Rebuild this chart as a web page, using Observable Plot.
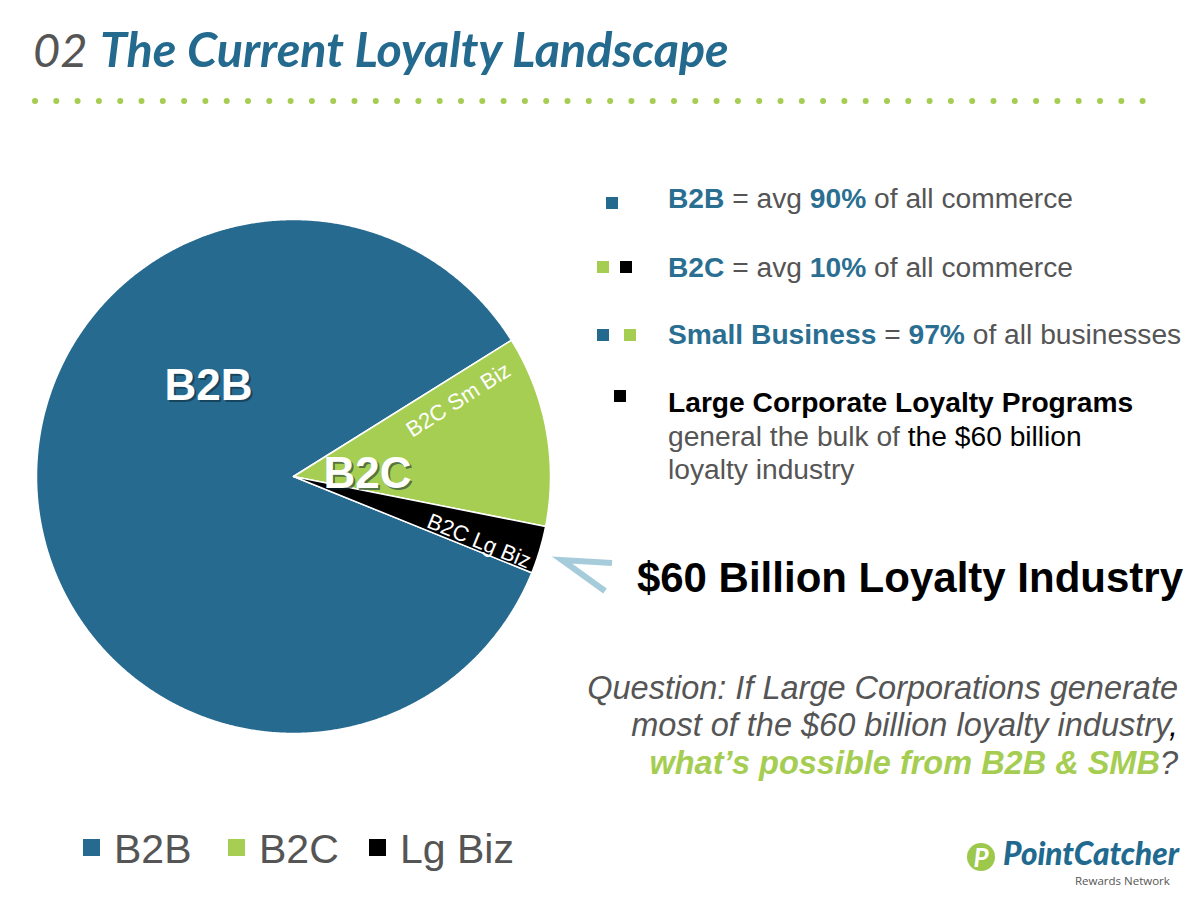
<!DOCTYPE html>
<html><head><meta charset="utf-8">
<script src="https://cdn.jsdelivr.net/npm/d3@7"></script>
<script src="https://cdn.jsdelivr.net/npm/@observablehq/plot@0.6"></script>
<style>
html,body{margin:0;padding:0;background:#fff;}
#page{position:relative;width:1200px;height:900px;overflow:hidden;background:#fff;}
#pie{position:absolute;left:13px;top:196px;}
#pie svg{background:transparent;}
#overlay{position:absolute;left:0;top:0;}
</style></head>
<body>
<div id="page">
<div id="pie"></div>
<svg id="overlay" width="1200" height="900" font-family="Liberation Sans, Arial, sans-serif">
  <!-- title -->
  <text x="33" y="67" font-family="Lato" font-style="italic" font-size="47" fill="#555">02</text>
  <text x="100" y="67" font-family="Lato" font-style="italic" font-weight="700" font-size="48.5" fill="#236a8e">The Current Loyalty Landscape</text>
  <line x1="35" y1="101" x2="1146" y2="101" stroke="#a5cd52" stroke-width="6" stroke-linecap="round" stroke-dasharray="0 21.3"/>
  <!-- bullets -->
  <g font-size="28.2" fill="#555">
    <rect x="606" y="197" width="12" height="12" fill="#236a8e"/>
    <text x="668" y="208"><tspan font-weight="bold" fill="#2a6f91">B2B</tspan> = avg <tspan font-weight="bold" fill="#2a6f91">90%</tspan> of all commerce</text>
    <rect x="597" y="261" width="12" height="12" fill="#a5cd52"/>
    <rect x="620" y="261" width="12" height="12" fill="#000"/>
    <text x="668" y="277"><tspan font-weight="bold" fill="#2a6f91">B2C</tspan> = avg <tspan font-weight="bold" fill="#2a6f91">10%</tspan> of all commerce</text>
    <rect x="597" y="329" width="12" height="12" fill="#236a8e"/>
    <rect x="624" y="329" width="12" height="12" fill="#a5cd52"/>
    <text x="668" y="344"><tspan font-weight="bold" fill="#2a6f91">Small Business</tspan> = <tspan font-weight="bold" fill="#2a6f91">97%</tspan> of all businesses</text>
    <rect x="614" y="390" width="12" height="12" fill="#000"/>
    <text x="668" y="412" font-weight="bold" fill="#000">Large Corporate Loyalty Programs</text>
    <text x="668" y="446">general the bulk of <tspan fill="#000">the $60 billion</tspan></text>
    <text x="668" y="479">loyalty industry</text>
  </g>
  <polyline points="612,563 562,560 605,591" fill="none" stroke="#9cc6d8" stroke-width="6" opacity="0.9"/>
  <text x="1183" y="592" text-anchor="end" font-size="42" font-weight="bold" fill="#000">$60 Billion Loyalty Industry</text>
  <g font-size="32.5" font-style="italic" fill="#555" text-anchor="end">
    <text x="1178" y="699">Question: If Large Corporations generate</text>
    <text x="1178" y="736">most of the $60 billion loyalty industry<tspan fill="#000">,</tspan></text>
    <text x="1178" y="774"><tspan font-weight="bold" fill="#a5cd52">what’s possible from B2B &amp; SMB</tspan>?</text>
  </g>
  <g id="legend" font-size="41" fill="#555"></g>
  <!-- logo -->
  <circle cx="981" cy="857" r="14" fill="#9cc84b"/>
  <text x="981" y="867" text-anchor="middle" font-family="Lato" font-style="italic" font-weight="700" font-size="26" fill="#fff">P</text>
  <text x="1003" y="865" font-family="Lato" font-style="italic" font-weight="900" font-size="31.5" fill="#1f6a8e">PointCatcher</text>
  <text x="1075" y="885" font-family="Open Sans" font-size="11.5" fill="#555">Rewards Network</text>
</svg>
</div>
<script>
// ---- data ----
const slices = ["B2B", "B2C Sm Biz", "B2C Lg Biz"];
const shares = [85, 12, 3];
const legendLabels = ["B2B", "B2C", "Lg Biz"];
const bigLabels = ["B2B", "B2C"];
const sliceLabels = ["B2C Sm Biz", "B2C Lg Biz"];

// ---- style / layout ----
const colors = ["#266a90", "#a6ce53", "#000000"];
const startDeg = 112;
const R = 257;            // pie radius in px
const size = 560;
const half = (size / 2) / R;
const bigLayout = {"B2B": [-0.331, 0.352], "B2C": [0.288, 0.012]};
const smallLayout = {"B2C Sm Biz": [0.642, 0.297, -32.5], "B2C Lg Biz": [0.722, -0.252, 22.5]};

const arcs = d3.pie().sort(null).value((d, i) => shares[i])
  .startAngle(startDeg * Math.PI / 180)
  .endAngle(startDeg * Math.PI / 180 + 2 * Math.PI)(slices);

const pts = [];
for (const a of arcs) {
  pts.push({key: a.data, x: 0, y: 0});
  const n = Math.max(4, Math.ceil((a.endAngle - a.startAngle) / 0.005));
  for (let i = 0; i <= n; i++) {
    const t = a.startAngle + (a.endAngle - a.startAngle) * i / n;
    pts.push({key: a.data, x: Math.sin(t), y: Math.cos(t)});
  }
}
const big = bigLabels.map(l => ({label: l, x: bigLayout[l][0], y: bigLayout[l][1]}));
const small = sliceLabels.map(l => ({label: l, x: smallLayout[l][0], y: smallLayout[l][1], r: smallLayout[l][2]}));

const chart = Plot.plot({
  width: size, height: size, margin: 0,
  x: {domain: [-half, half], axis: null},
  y: {domain: [-half, half], axis: null},
  color: {domain: slices, range: colors},
  style: {background: "transparent", fontFamily: "Liberation Sans, Arial, sans-serif"},
  marks: [
    Plot.line(pts, {x: "x", y: "y", z: "key", fill: "key", stroke: "white", strokeWidth: 1.5, curve: "linear-closed"}),
    Plot.text(big, {x: "x", y: "y", text: "label", fontSize: 44, fontWeight: "bold", fill: "#0d2633", fillOpacity: 0.55, dx: 2, dy: 2}),
    Plot.text(big, {x: "x", y: "y", text: "label", fontSize: 44, fontWeight: "bold", fill: "white"}),
    Plot.text(small, {x: "x", y: "y", text: "label", rotate: "r", fontSize: 22, fill: "white"})
  ]
});
document.getElementById("pie").appendChild(chart);

// legend
const lg = d3.select("#legend");
const legX = [83, 228, 369];
legendLabels.forEach((l, i) => {
  lg.append("rect").attr("x", legX[i]).attr("y", 839).attr("width", 17).attr("height", 17).attr("fill", colors[i]);
  lg.append("text").attr("x", legX[i] + 31).attr("y", 863).text(l);
});
</script>
</body></html>
